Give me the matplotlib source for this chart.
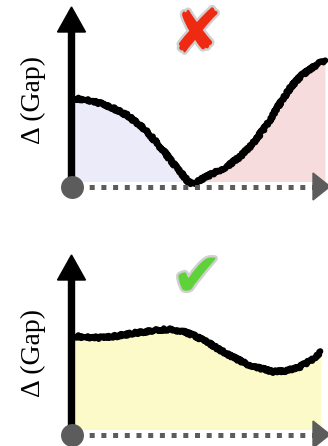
import numpy as np
import matplotlib.pyplot as plt
import matplotlib.patheffects as pe

# Top panel: gap closes (bad)
x_bad = [0.07, 0.61, 1.14, 1.67, 2.21, 2.74, 3.14, 3.54, 3.94, 4.34, 4.67, 4.87,
         5.14, 5.67, 6.21, 6.74, 7.27, 7.81, 8.34, 8.74, 9.14, 9.67, 10.14]
gap_bad = [3.53, 3.46, 3.33, 3.13, 2.86, 2.46, 2.06, 1.59, 1.09, 0.59, 0.19, 0.10,
           0.26, 0.53, 0.79, 1.19, 1.73, 2.46, 3.33, 3.93, 4.39, 4.79, 5.06]
x_split = 4.87

# Bottom panel: gap stays open (good)
x_good = [0.07, 0.61, 1.14, 1.81, 2.47, 3.14, 3.81, 4.34, 4.87, 5.41,
          5.94, 6.47, 7.01, 7.54, 8.07, 8.61, 9.14, 9.61, 9.97]
gap_good = [3.94, 3.89, 3.87, 3.94, 4.05, 4.14, 4.21, 4.15, 3.98, 3.71,
            3.38, 3.09, 2.82, 2.65, 2.51, 2.55, 2.71, 2.98, 3.31]

ylabel = '\u0394 (Gap)'
GRAY = '#5c5c5c'


def draw_axes(ax):
    """ Black y arrow, gray dotted x arrow and the origin dot """
    ax.arrow(0, 0, 0, 7.18, width=0.24, head_width=1.12, head_length=1.0,
             length_includes_head=True, color='black', zorder=5)
    ax.plot([0.3, 9.7], [0, 0], color=GRAY, lw=3.6,
            linestyle=(0.3, (1, 1.34)), solid_capstyle='butt', dash_capstyle='butt', zorder=4)
    ax.arrow(9.66, 0, 0.68, 0, width=0.01, head_width=1.08, head_length=0.68,
             length_includes_head=True, color=GRAY, zorder=4, clip_on=False)
    ax.plot(0, 0, 'o', color=GRAY, ms=15.5, zorder=6)


def gap_line(ax, x, y):
    line, = ax.plot(x, y, color='black', lw=4.4, solid_capstyle='round',
                    solid_joinstyle='round', zorder=3)
    line.set_sketch_params(1.3, 2.5, 3)


def setup(ax, ylim):
    ax.set_xlim(-2.86, 10.26)
    ax.set_ylim(*ylim)
    ax.axis('off')


fig = plt.figure(figsize=(3.28, 4.46), dpi=100)
ax1 = fig.add_axes([0, 1 - 223/446, 1, 223/446])
ax2 = fig.add_axes([0, 0, 1, 223/446])
setup(ax1, (-1.46, 7.46))
setup(ax2, (-0.46, 8.46))

# top panel
xb = np.array(x_bad)
gb = np.array(gap_bad)
base = 0.2
ax1.fill_between(xb, base, gb, where=xb <= x_split, color='#ebebfa', lw=0, zorder=1)
ax1.fill_between(xb, base, gb, where=xb >= x_split, color='#f6dcdc', lw=0, zorder=1)
gap_line(ax1, xb, gb)
draw_axes(ax1)
ax1.text(-1.54, 3.46, ylabel, rotation=90, ha='center', va='center',
         fontsize=20, family='Liberation Serif')
ax1.text(5.02, 6.02, '\u2718', ha='center', va='center', fontsize=44,
         color='#ee2a12', family='DejaVu Sans',
         path_effects=[pe.withStroke(linewidth=3.5, foreground='#d0d0d0')])

# bottom panel
xg = np.array(x_good)
gg = np.array(gap_good)
ax2.fill_between(xg, base, gg, color='#fcfac8', lw=0, zorder=1)
gap_line(ax2, xg, gg)
draw_axes(ax2)
ax2.text(-1.54, 3.26, ylabel, rotation=90, ha='center', va='center',
         fontsize=20, family='Liberation Serif')
ax2.text(5.02, 6.2, '\u2714', ha='center', va='center', fontsize=44,
         color='#5fd23a', family='DejaVu Sans',
         path_effects=[pe.withStroke(linewidth=3.5, foreground='#d0d0d0')])

fig.savefig('out.png', dpi=100)
